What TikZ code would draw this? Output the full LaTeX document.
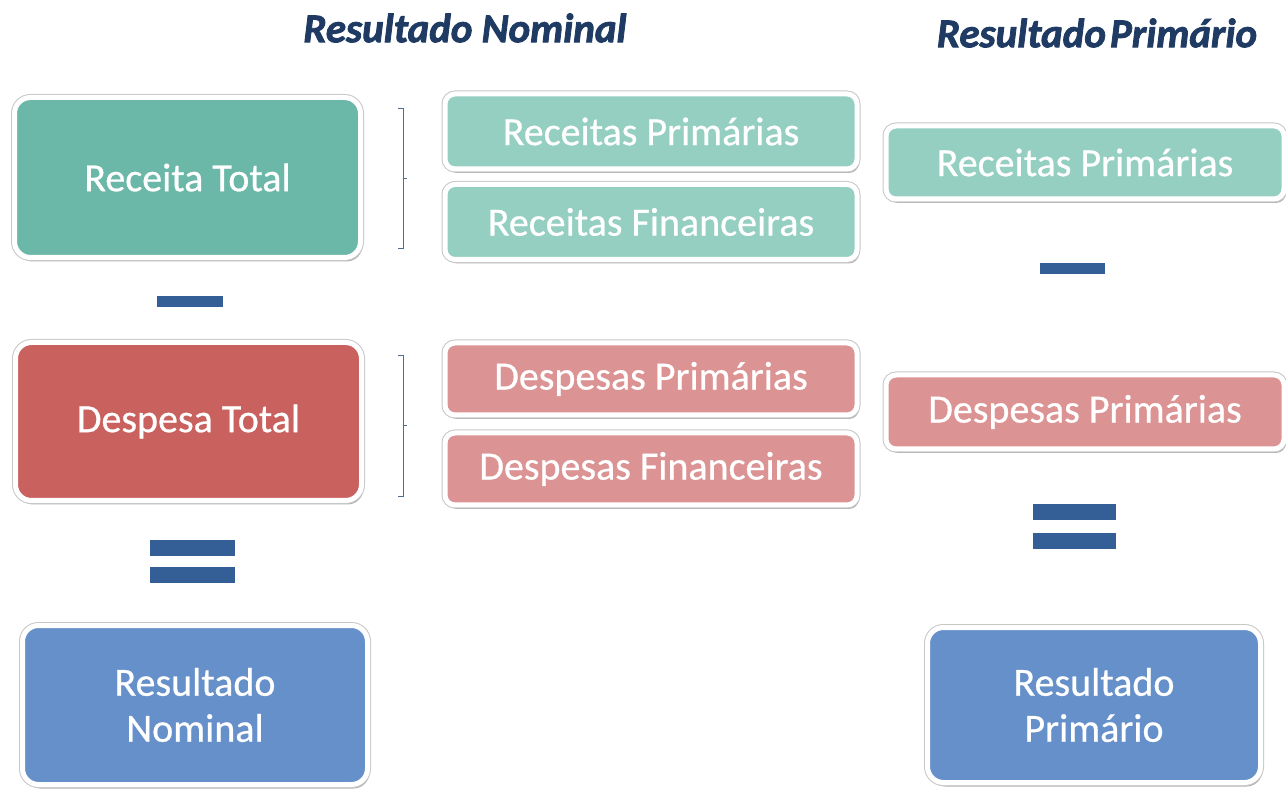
\documentclass[tikz,border=0pt]{standalone}
\usepackage{fontspec}
\setmainfont{Carlito}[UprightFeatures={FakeBold=0.6}, BoldItalicFeatures={FakeBold=2}]
\usetikzlibrary{shadows}
\definecolor{titlec}{HTML}{1F3A63}
\definecolor{tealbig}{HTML}{6CB8A8}
\definecolor{tealsm}{HTML}{94CFC1}
\definecolor{redbig}{HTML}{C9615E}
\definecolor{redsm}{HTML}{DC9394}
\definecolor{bluebig}{HTML}{6690C9}
\definecolor{signc}{HTML}{335E96}
\definecolor{bracec}{HTML}{4F6D92}
\tikzset{
  box/.style={draw=white, line width=5pt, rounded corners=16pt, text=white,
    font=\fontsize{40}{46}\selectfont, align=center, inner sep=0pt,
    drop shadow={shadow xshift=2pt, shadow yshift=-4pt, fill=black, opacity=0.3},
    preaction={draw=black!22, line width=7pt}},
  smallbox/.style={box, rounded corners=10pt},
  sign/.style={fill=signc, inner sep=0pt, minimum height=11pt},
  titletext/.style={text=titlec, font=\fontsize{41}{46}\selectfont\bfseries\itshape},
  bracket/.style={draw=bracec, line width=0.9pt}
}
\begin{document}
\begin{tikzpicture}[x=1pt,y=-1pt]
\useasboundingbox[fill=white] (0,0) rectangle (1286,791);
% titles
\node[titletext] (t1) at (465,28) {Resultado Nominal};
\node[titletext] (t2) at (1097,33) {Resultado\hspace{0.1em}Primário};
% big boxes
\node[box, fill=tealbig, minimum width=346pt, minimum height=160pt] (rt) at (187.5,177.5) {Receita Total};
\node[box, fill=redbig, minimum width=346pt, minimum height=158pt] (dt) at (188.5,421.5) {Despesa Total};
\node[box, fill=bluebig, minimum width=345pt, minimum height=159pt] (rn) at (195,705) {Resultado\\Nominal};
% middle boxes
\node[smallbox, fill=tealsm, minimum width=412pt, minimum height=75pt] (rp1) at (651,131.5) {Receitas Primárias};
\node[smallbox, fill=tealsm, minimum width=412pt, minimum height=75pt] (rf) at (651,222) {Receitas Financeiras};
\node[smallbox, fill=redsm, minimum width=412pt, minimum height=72pt] (dp1) at (651,379) {Despesas Primárias};
\node[smallbox, fill=redsm, minimum width=412pt, minimum height=72pt] (df) at (651,469) {Despesas Financeiras};
% right boxes
\node[smallbox, fill=tealsm, minimum width=398pt, minimum height=73pt] (rp2) at (1085,162.5) {Receitas Primárias};
\node[smallbox, fill=redsm, minimum width=398pt, minimum height=74pt] (dp2) at (1085,412) {Despesas Primárias};
\node[box, fill=bluebig, minimum width=333pt, minimum height=155pt] (rpr) at (1094,705) {Resultado\\Primário};
% brackets
\coordinate (b1t) at (398,108);
\coordinate (b1b) at (398,248);
\coordinate (b1m) at (407,178);
\draw[bracket] (b1t) -- ++(5,0) |- (b1b);
\draw[bracket] (403,178) -- (b1m);
\coordinate (b2t) at (398,355);
\coordinate (b2b) at (398,496);
\coordinate (b2m) at (407,425);
\draw[bracket] (b2t) -- ++(5,0) |- (b2b);
\draw[bracket] (403,425) -- (b2m);
% signs
\node[sign, minimum width=66pt] (m1) at (190,302) {};
\node[sign, minimum width=65pt] (m2) at (1072.5,268.5) {};
\node[sign, minimum width=85pt, minimum height=16pt] (e1a) at (192.5,548) {};
\node[sign, minimum width=85pt, minimum height=16pt] (e1b) at (192.5,574.5) {};
\node[sign, minimum width=83pt, minimum height=16pt] (e2a) at (1074.5,512.5) {};
\node[sign, minimum width=83pt, minimum height=16pt] (e2b) at (1074.5,541) {};
\end{tikzpicture}
\end{document}
